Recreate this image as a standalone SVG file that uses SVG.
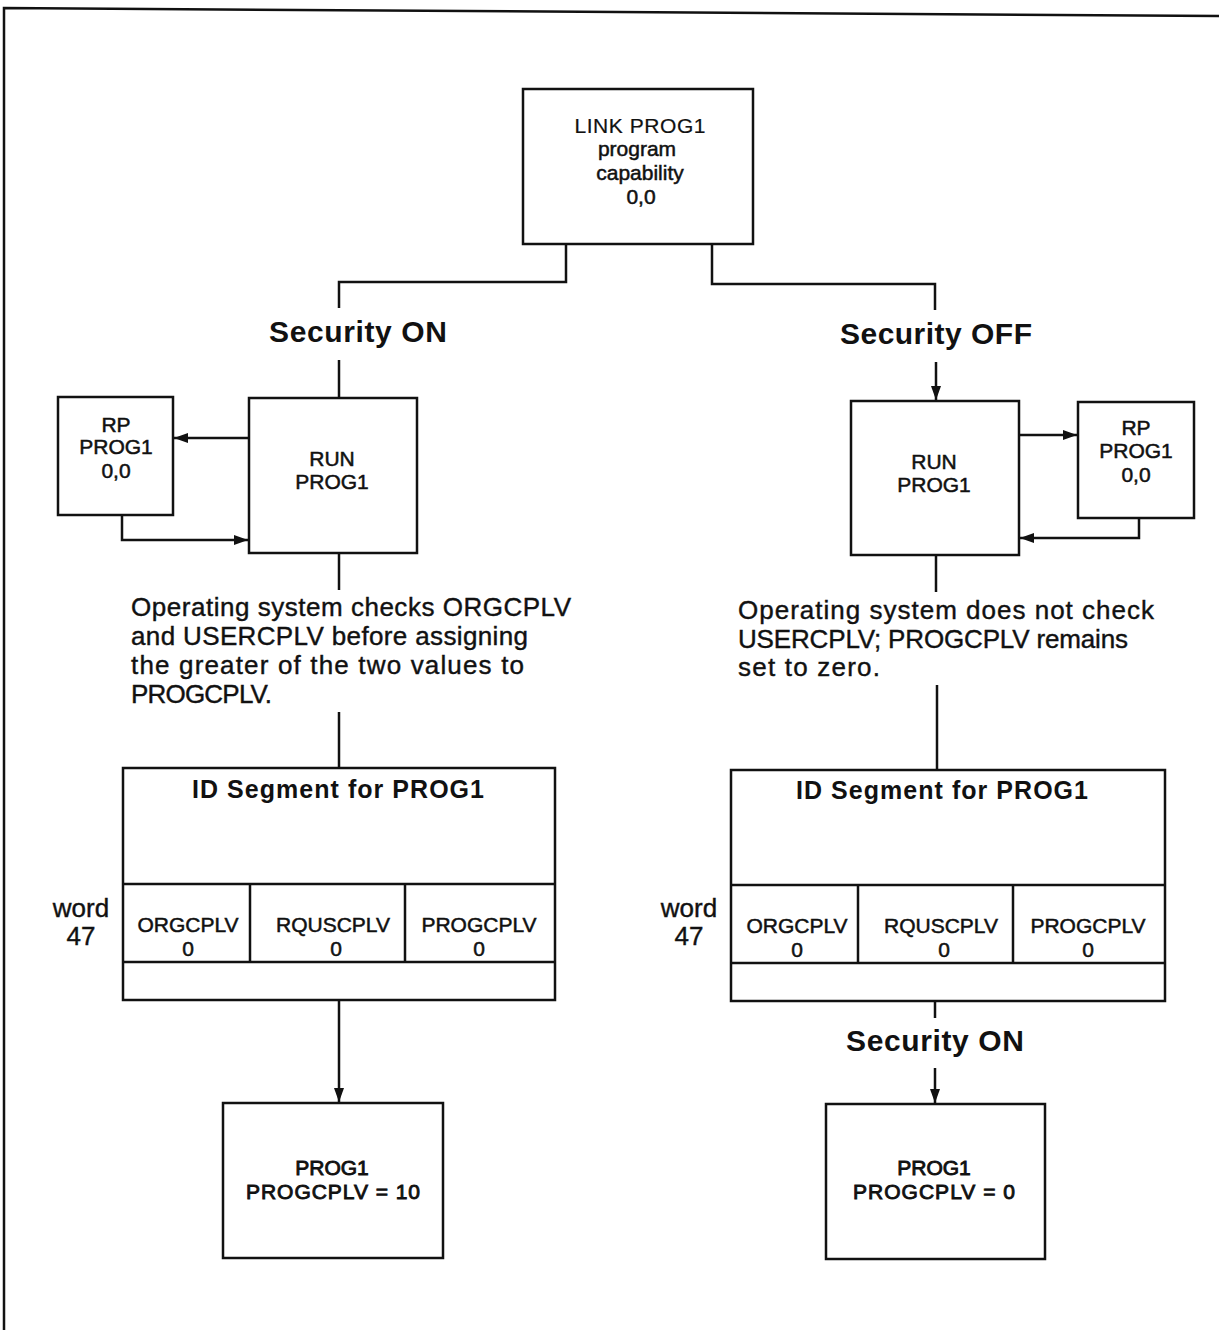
<svg xmlns="http://www.w3.org/2000/svg" width="1219" height="1330" viewBox="0 0 1219 1330">
  <style>
    .box { fill: #fff; stroke: #111; stroke-width: 2.5; }
    .ln { fill: none; stroke: #111; stroke-width: 2.5; }
    text { font-family: "Liberation Sans", Arial, sans-serif; fill: #111; text-anchor: middle; }
    .lbl { font-size: 21px; stroke: #111; stroke-width: 0.5; }
    .thin { font-size: 21px; stroke: #111; stroke-width: 0.2; }
    .heavy { font-size: 21px; stroke: #111; stroke-width: 0.9; }
    .cell { font-size: 21px; stroke: #111; stroke-width: 0.5; }
    .sec { font-size: 30px; font-weight: bold; }
    .title { font-size: 25px; font-weight: bold; }
    .para { font-size: 26px; text-anchor: start; stroke: #111; stroke-width: 0.4; }
    .word { font-size: 26px; stroke: #111; stroke-width: 0.4; }
  </style>
  <defs>
    <marker id="arrow" viewBox="0 0 14 10" refX="14" refY="5" markerWidth="14" markerHeight="10" markerUnits="userSpaceOnUse" orient="auto">
      <path d="M0,0 L14,5 L0,10 z" fill="#111"/>
    </marker>
  </defs>
  <rect width="1219" height="1330" fill="#fff"/>

  <!-- page frame -->
  <g id="frame">
    <path class="ln" d="M4,1330 L4,8 L1219,16"/>
  </g>

  <!-- connectors -->
  <g id="connectors">
    <path class="ln" d="M566,244 V282 H339 V308"/>
    <path class="ln" d="M712,244 V284 H935 V310"/>
    <path class="ln" d="M339,360 V398"/>
    <path class="ln" d="M936,362 V400" marker-end="url(#arrow)"/>
    <path class="ln" d="M249,438 H174" marker-end="url(#arrow)"/>
    <path class="ln" d="M122,515 V540 H248" marker-end="url(#arrow)"/>
    <path class="ln" d="M1019,435 H1077" marker-end="url(#arrow)"/>
    <path class="ln" d="M1139,518 V538 H1020" marker-end="url(#arrow)"/>
    <path class="ln" d="M339,553 V590"/>
    <path class="ln" d="M936,555 V592"/>
    <path class="ln" d="M339,712 V768"/>
    <path class="ln" d="M937,685 V770"/>
    <path class="ln" d="M339,1000 V1102" marker-end="url(#arrow)"/>
    <path class="ln" d="M935,1001 V1018"/>
    <path class="ln" d="M935,1068 V1103" marker-end="url(#arrow)"/>
  </g>

  <!-- LINK PROG1 -->
  <g id="link">
    <rect class="box" x="523" y="89" width="230" height="155"/>
    <text class="thin" x="640" y="133" textLength="131" lengthAdjust="spacing">LINK PROG1</text>
    <text class="lbl" x="637" y="156">program</text>
    <text class="lbl" x="640" y="180">capability</text>
    <text class="lbl" x="641" y="204">0,0</text>
  </g>

  <text id="sec-on" class="sec" x="358" y="342" textLength="178" lengthAdjust="spacing">Security ON</text>
  <text id="sec-off" class="sec" x="936" y="344" textLength="192" lengthAdjust="spacing">Security OFF</text>

  <!-- left branch: RUN / RP -->
  <g id="run-left">
    <rect class="box" x="249" y="398" width="168" height="155"/>
    <text class="lbl" x="332" y="466">RUN</text>
    <text class="lbl" x="332" y="489">PROG1</text>
  </g>
  <g id="rp-left">
    <rect class="box" x="58" y="397" width="115" height="118"/>
    <text class="lbl" x="116" y="432">RP</text>
    <text class="lbl" x="116" y="454">PROG1</text>
    <text class="lbl" x="116" y="478">0,0</text>
  </g>

  <!-- right branch: RUN / RP -->
  <g id="run-right">
    <rect class="box" x="851" y="401" width="168" height="154"/>
    <text class="lbl" x="934" y="469">RUN</text>
    <text class="lbl" x="934" y="492">PROG1</text>
  </g>
  <g id="rp-right">
    <rect class="box" x="1078" y="402" width="116" height="116"/>
    <text class="lbl" x="1136" y="435">RP</text>
    <text class="lbl" x="1136" y="458">PROG1</text>
    <text class="lbl" x="1136" y="482">0,0</text>
  </g>

  <!-- explanatory notes -->
  <g id="note-left">
    <text class="para" x="131" y="616" textLength="440" lengthAdjust="spacing">Operating system checks ORGCPLV</text>
    <text class="para" x="131" y="645" textLength="397" lengthAdjust="spacing">and USERCPLV before assigning</text>
    <text class="para" x="131" y="674" textLength="393" lengthAdjust="spacing">the greater of the two values to</text>
    <text class="para" x="131" y="703" textLength="141" lengthAdjust="spacing">PROGCPLV.</text>
  </g>
  <g id="note-right">
    <text class="para" x="738" y="619" textLength="416" lengthAdjust="spacing">Operating system does not check</text>
    <text class="para" x="738" y="648" textLength="390" lengthAdjust="spacing">USERCPLV; PROGCPLV remains</text>
    <text class="para" x="738" y="676" textLength="142" lengthAdjust="spacing">set to zero.</text>
  </g>

  <!-- ID segment, left -->
  <g id="idseg-left">
    <rect class="box" x="123" y="768" width="432" height="232"/>
    <path class="ln" d="M123,884 H555 M123,962 H555 M250,884 V962 M405,884 V962"/>
    <text class="title" x="338" y="798" textLength="292" lengthAdjust="spacing">ID Segment for PROG1</text>
    <text class="cell" x="188" y="932">ORGCPLV</text>
    <text class="cell" x="188" y="956">0</text>
    <text class="cell" x="333" y="932">RQUSCPLV</text>
    <text class="cell" x="336" y="956">0</text>
    <text class="cell" x="479" y="932">PROGCPLV</text>
    <text class="cell" x="479" y="956">0</text>
    <text class="word" x="81" y="917">word</text>
    <text class="word" x="81" y="945">47</text>
  </g>

  <!-- ID segment, right -->
  <g id="idseg-right">
    <rect class="box" x="731" y="770" width="434" height="231"/>
    <path class="ln" d="M731,885 H1165 M731,963 H1165 M858,885 V963 M1013,885 V963"/>
    <text class="title" x="942" y="799" textLength="292" lengthAdjust="spacing">ID Segment for PROG1</text>
    <text class="cell" x="797" y="933">ORGCPLV</text>
    <text class="cell" x="797" y="957">0</text>
    <text class="cell" x="941" y="933">RQUSCPLV</text>
    <text class="cell" x="944" y="957">0</text>
    <text class="cell" x="1088" y="933">PROGCPLV</text>
    <text class="cell" x="1088" y="957">0</text>
    <text class="word" x="689" y="917">word</text>
    <text class="word" x="689" y="945">47</text>
  </g>

  <text id="sec-on-2" class="sec" x="935" y="1051" textLength="178" lengthAdjust="spacing">Security ON</text>

  <!-- results -->
  <g id="result-left">
    <rect class="box" x="223" y="1103" width="220" height="155"/>
    <text class="heavy" x="332" y="1175">PROG1</text>
    <text class="heavy" x="333" y="1199" textLength="174" lengthAdjust="spacing">PROGCPLV = 10</text>
  </g>
  <g id="result-right">
    <rect class="box" x="826" y="1104" width="219" height="155"/>
    <text class="heavy" x="934" y="1175">PROG1</text>
    <text class="heavy" x="934" y="1199" textLength="162" lengthAdjust="spacing">PROGCPLV = 0</text>
  </g>
</svg>
